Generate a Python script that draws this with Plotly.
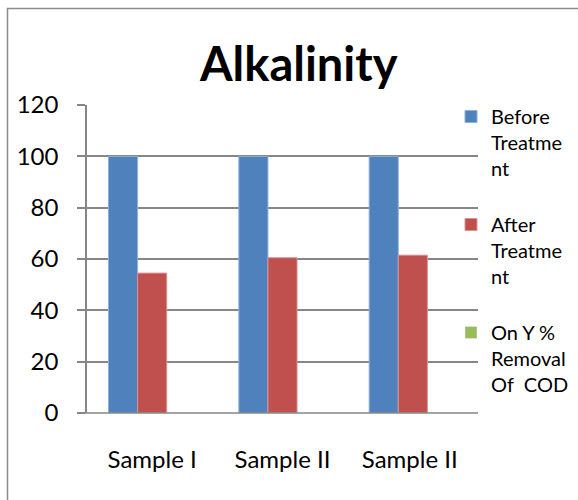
import plotly.graph_objects as go

# Alkalinity before and after treatment, per sample
categories = ["Sample I", "Sample II", "Sample II "]
before_treatment = [100, 100, 100]
after_treatment = [54.5, 60.5, 61.5]
removal_cod = [None, None, None]  # series with no values plotted

series_names = ["Before<br>Treatme<br>nt", "After<br>Treatme<br>nt", "On Y %<br>Removal<br>Of  COD"]
y_ticks = [0, 20, 40, 60, 80, 100, 120]

W, H = 578, 500
L, R, T, B = 87, 478, 105, 413  # plot area in pixels
FONT = "Lato"
GRID = "#868686"


def px_x(px):
    return (px - L) / (R - L)


def px_y(py):
    return (B - py) / (B - T)


fig = go.Figure()
fig.add_trace(go.Bar(
    x=categories, y=before_treatment, name=series_names[0],
    marker=dict(color="#4F81BD", line=dict(color="#8FB0D8", width=1)),
    legendgroup="a",
))
fig.add_trace(go.Bar(
    x=categories, y=after_treatment, name=series_names[1],
    marker=dict(color="#C0504D", line=dict(color="#DA9391", width=1)),
    legendgroup="b",
))
fig.add_trace(go.Bar(
    x=categories, y=removal_cod, name=series_names[2],
    marker=dict(color="#9BBB59"), showlegend=True,
    legendgroup="c",
))

fig.update_layout(
    width=W, height=H,
    margin=dict(l=L, r=W - R, t=T, b=H - B, pad=0, autoexpand=False),
    paper_bgcolor="white", plot_bgcolor="rgba(0,0,0,0)",
    barmode="group", bargap=0.33, bargroupgap=0,
    font=dict(family=FONT, size=24, color="black"),
    showlegend=True,
    legend=dict(
        x=451 / W, xanchor="left", xref="container",
        y=1 - 97 / H, yanchor="top", yref="container",
        maxheight=1,
        font=dict(family=FONT, size=20, color="black"),
        valign="top", tracegroupgap=27, traceorder="grouped",
        bgcolor="rgba(0,0,0,0)",
    ),
    xaxis=dict(
        showgrid=False, showline=False, ticks="", zeroline=False,
        tickfont=dict(size=24), ticklabelstandoff=30,
    ),
    yaxis=dict(
        range=[0, 120], tickvals=y_ticks, showgrid=True, gridcolor=GRID,
        gridwidth=1.5, zeroline=False, showline=True, linecolor=GRID,
        linewidth=1.5, ticks="outside", ticklen=8, tickcolor=GRID,
        tickwidth=1.5, tickfont=dict(size=24), ticklabelstandoff=14,
    ),
    annotations=[dict(
        text="<b>Alkalinity</b>", x=px_x(298), y=px_y(63), xref="paper",
        yref="paper", showarrow=False, xanchor="center", yanchor="middle",
        font=dict(family=FONT, size=47, color="black"),
    )],
    shapes=[
        # outer chart frame
        dict(type="rect", xref="paper", yref="paper",
             x0=px_x(7.5), x1=px_x(W + 20), y0=px_y(H + 20), y1=px_y(8.5),
             line=dict(color="#8c8c8c", width=1.5), layer="below"),
        # baseline at zero extending left to the tick
        dict(type="line", xref="paper", yref="paper",
             x0=px_x(79), x1=1, y0=0, y1=0,
             line=dict(color=GRID, width=1.5)),
    ],
)

fig.write_html("out.html")
